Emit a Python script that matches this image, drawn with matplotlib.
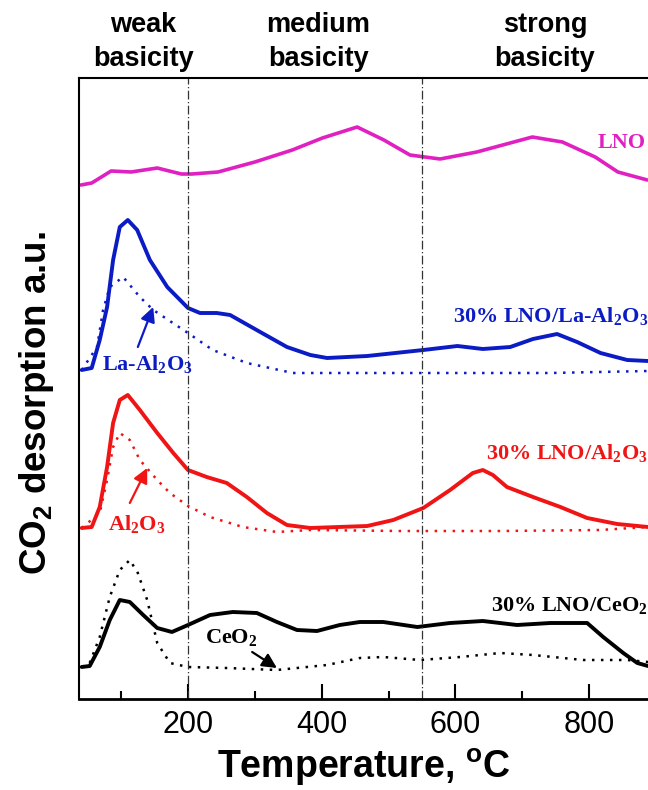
import matplotlib
matplotlib.use("Agg")
import matplotlib.pyplot as plt
import matplotlib.transforms as mtransforms

plt.rcParams['mathtext.fontset'] = 'custom'
plt.rcParams['mathtext.rm'] = 'Liberation Serif:bold'
plt.rcParams['mathtext.bf'] = 'Liberation Sans:bold'
plt.rcParams['lines.solid_joinstyle'] = 'round'
plt.rcParams['lines.solid_capstyle'] = 'round'

# temperatures (C) and signals (a.u., already offset per sample)
t_lno = [40, 56, 85, 115, 154, 190, 206, 245, 300, 356, 401, 453, 493, 532, 577, 632, 715, 760, 809, 843, 887]
lno = [514, 516, 528, 527, 531, 525, 525, 527, 537, 549, 561, 572, 559, 544, 540, 547, 562, 557, 542, 527, 519]

t_lno_la = [41, 56, 68, 79, 88, 98, 110, 124, 143, 169, 200, 218, 243, 263, 308, 348, 383, 408, 468,
            552, 603, 641, 682, 716, 752, 782, 817, 857, 888]
lno_la = [329, 331, 359, 392, 439, 472, 479, 469, 439, 412, 391, 386, 386, 384, 367, 352, 344, 341, 343,
          349, 353, 350, 352, 360, 365, 357, 346, 339, 338]

t_la = [41, 64, 73, 83, 103, 128, 148, 200, 237, 288, 357, 442, 592, 742, 888]
la = [329, 352, 389, 412, 422, 402, 389, 366, 349, 336, 326, 326, 326, 326, 328]

t_lno_al = [41, 56, 68, 79, 88, 98, 110, 128, 154, 178, 200, 228, 258, 288, 318, 348, 383, 468, 507,
            552, 592, 626, 641, 656, 677, 716, 757, 797, 842, 888]
lno_al = [171, 172, 192, 232, 276, 299, 304, 289, 266, 246, 229, 222, 216, 202, 186, 174, 171, 173, 179,
          191, 209, 226, 229, 224, 212, 202, 192, 181, 175, 172]

t_al = [41, 68, 79, 88, 98, 113, 128, 154, 173, 200, 233, 282, 333, 383, 517, 667, 816, 888]
al = [171, 186, 219, 252, 266, 259, 239, 219, 206, 193, 182, 172, 167, 169, 168, 168, 169, 172]

t_lno_ce = [41, 53, 68, 83, 98, 113, 133, 154, 176, 200, 233, 267, 303, 333, 363, 393, 427, 457, 492,
            543, 592, 641, 692, 742, 797, 821, 851, 872, 888]
lno_ce = [32, 33, 52, 79, 99, 97, 84, 71, 67, 74, 84, 87, 86, 77, 69, 68, 74, 77, 77,
          72, 76, 78, 74, 76, 76, 62, 46, 36, 33]

t_ce = [41, 53, 68, 83, 98, 113, 125, 139, 154, 173, 200, 258, 333, 408, 457, 492, 547, 607, 667, 716,
        791, 857, 888]
ce = [32, 36, 62, 102, 129, 139, 126, 99, 56, 36, 32, 31, 29, 34, 41, 42, 39, 42, 46, 44, 39, 39, 37]

regions = ['weak\nbasicity', 'medium\nbasicity', 'strong\nbasicity']
region_x = [133, 395, 734]
borders = [200, 550]

magenta = '#e020c0'
blue = '#0c1cc4'
red = '#f01414'
dots = (0, (1, 2.6))

fig = plt.figure(figsize=(6.48, 7.9), dpi=100)
ax = fig.add_axes([79 / 648, 91 / 790, 1 - 79 / 648, 621 / 790])

ax.plot(t_lno, lno, color=magenta, lw=2.6)
ax.plot(t_lno_la, lno_la, color=blue, lw=2.8)
ax.plot(t_la, la, color=blue, lw=1.8, ls=dots)
ax.plot(t_lno_al, lno_al, color=red, lw=2.8)
ax.plot(t_al, al, color=red, lw=1.8, ls=dots)
ax.plot(t_lno_ce, lno_ce, color='black', lw=2.8)
ax.plot(t_ce, ce, color='black', lw=1.8, ls=dots)

for b in borders:
    ax.axvline(b, color='#333333', lw=0.9, ls=(0, (7, 2, 1, 2)))

serif = dict(family='Liberation Serif', weight='bold', fontsize=16)
ax.text(884, 556, 'LNO', color=magenta, ha='right', va='center', **serif)
ax.text(888, 377, '30% LNO/La-Al$_2$O$_3$', color=blue, ha='right', va='baseline', **serif)
ax.text(71, 329, 'La-Al$_2$O$_3$', color=blue, ha='left', va='baseline', **serif)
ax.text(888, 240, '30% LNO/Al$_2$O$_3$', color=red, ha='right', va='baseline', **serif)
ax.text(80, 169, 'Al$_2$O$_3$', color=red, ha='left', va='baseline', **serif)
ax.text(888, 88, '30% LNO/CeO$_2$', color='black', ha='right', va='baseline', **serif)
ax.text(225, 56, 'CeO$_2$', color='black', ha='left', va='baseline', **serif)

arrow = dict(arrowstyle='-|>', lw=1.6, mutation_scale=22, shrinkA=0, shrinkB=0)
ax.annotate('', xy=(148, 392), xytext=(125, 352), arrowprops=dict(color=blue, **arrow))
ax.annotate('', xy=(139, 231), xytext=(113, 196), arrowprops=dict(color=red, **arrow))
ax.annotate('', xy=(333, 31), xytext=(296, 47), arrowprops=dict(color='black', **arrow))

trans = mtransforms.blended_transform_factory(ax.transData, ax.transAxes)
for lbl, xx in zip(regions, region_x):
    ax.text(xx, 1.058, lbl, transform=trans, ha='center', va='center',
            family='Liberation Sans', weight='bold', fontsize=19.5, linespacing=1.4)

ax.set_xlim(37, 888)
ax.set_ylim(0, 621)
ax.set_xticks([200, 400, 600, 800])
ax.set_xticks([100, 300, 500, 700], minor=True)
ax.set_yticks([])
ax.tick_params(axis='x', which='major', direction='in', length=11, width=1.5, pad=8,
               labelsize=22)
ax.tick_params(axis='x', which='minor', direction='in', length=6, width=1.5)
for lab in ax.get_xticklabels():
    lab.set_family('Liberation Sans')

ax.spines['right'].set_visible(False)
ax.spines['top'].set_linewidth(1.5)
ax.spines['left'].set_linewidth(1.5)
ax.spines['bottom'].set_linewidth(2)

ax.set_xlabel(r'Temperature, $^\mathbf{o}$C', family='Liberation Sans', weight='bold',
              fontsize=27, labelpad=5)
fig.text(37 / 648, 1 - 403 / 790, r'CO$_\mathbf{2}$ desorption a.u.',
         rotation=90, ha='center', va='center', family='Liberation Sans', weight='bold',
         fontsize=26.5)

fig.savefig('out.png', dpi=100)
